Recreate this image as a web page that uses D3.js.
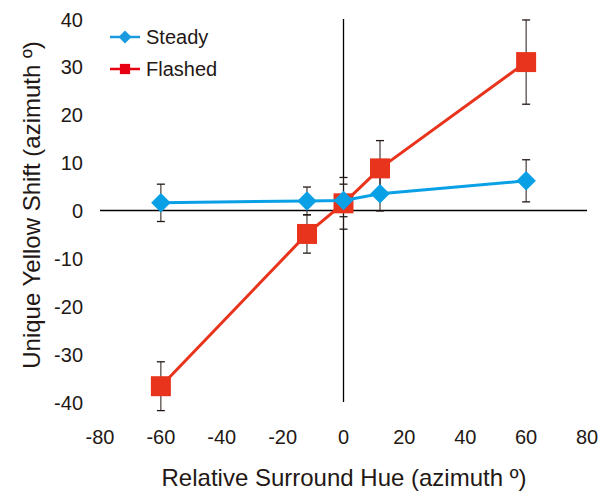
<html>
<head>
<script src="https://d3js.org/d3.v7.min.js"></script>
<style>
  body { margin: 0; background: #fff; }
  text { font-family: "Liberation Sans", Arial, sans-serif; fill: #231815; }
</style>
</head>
<body>
<svg width="602" height="491" id="chart"></svg>
<script>
var hues = [-60, -12, 0, 12, 60];
var steady = [1.6, 2.0, 2.1, 3.5, 6.2];
var steadyErr = [3.9, 2.9, 3.4, 3.6, 4.4];
var flashed = [-36.7, -4.9, 1.5, 8.8, 31.0];
var flashedErr = [5.1, 4.0, 5.4, 5.8, 8.8];
var xTicks = [-80, -60, -40, -20, 0, 20, 40, 60, 80];
var yTicks = [-40, -30, -20, -10, 0, 10, 20, 30, 40];

var svg = d3.select("#chart");
var x = d3.scaleLinear().domain([-80, 80]).range([100, 587]);
var y = d3.scaleLinear().domain([-40, 40]).range([402, 19]);

// axes cross at origin
svg.append("line").attr("x1", x(-80)).attr("x2", x(80)).attr("y1", y(0)).attr("y2", y(0))
  .attr("stroke", "#000").attr("stroke-width", 1.3);
svg.append("line").attr("x1", x(0)).attr("x2", x(0)).attr("y1", y(40)).attr("y2", y(-40))
  .attr("stroke", "#000").attr("stroke-width", 1.3);

// tick labels
svg.selectAll(".xt").data(xTicks).enter().append("text")
  .attr("x", function(d){ return x(d); }).attr("y", 444)
  .attr("text-anchor", "middle").attr("font-size", 20)
  .text(function(d){ return d; });
svg.selectAll(".yt").data(yTicks).enter().append("text")
  .attr("x", 83).attr("y", function(d){ return y(d) + 7.5; })
  .attr("text-anchor", "end").attr("font-size", 20)
  .text(function(d){ return d; });

svg.append("text").attr("x", 344).attr("y", 486).attr("text-anchor", "middle")
  .attr("font-size", 24).text("Relative Surround Hue (azimuth \u00ba)");
svg.append("text").attr("transform", "translate(40,205) rotate(-90)")
  .attr("text-anchor", "middle").attr("font-size", 24)
  .text("Unique Yellow Shift (azimuth \u00ba)");

// diamond = square turned 45 degrees
var series = [
  {vals: steady, err: steadyErr, color: "#0aa0e6", rot: 45, size: 190},
  {vals: flashed, err: flashedErr, color: "#e8341c", rot: 0, size: 400}
];

var line = d3.line().x(function(d){ return x(d[0]); }).y(function(d){ return y(d[1]); });

// error bars
series.forEach(function(s){
  var g = svg.append("g");
  hues.forEach(function(h, i){
    var top = y(s.vals[i] + s.err[i]), bot = y(s.vals[i] - s.err[i]);
    g.append("line").attr("x1", x(h)).attr("x2", x(h)).attr("y1", top).attr("y2", bot)
      .attr("stroke", "#231815").attr("stroke-width", 1);
    [top, bot].forEach(function(yy){
      g.append("line").attr("x1", x(h) - 4).attr("x2", x(h) + 4).attr("y1", yy).attr("y2", yy)
        .attr("stroke", "#231815").attr("stroke-width", 1.3);
    });
  });
});

// lines and markers (steady drawn last on top)
[series[1], series[0]].forEach(function(s){
  var pts = hues.map(function(h, i){ return [h, s.vals[i]]; });
  svg.append("path").attr("d", line(pts)).attr("fill", "none")
    .attr("stroke", s.color).attr("stroke-width", 3);
  svg.selectAll(null).data(pts).enter().append("path")
    .attr("d", d3.symbol().type(d3.symbolSquare).size(s.size))
    .attr("transform", function(d){
      return "translate(" + x(d[0]) + "," + y(d[1]) + ") rotate(" + s.rot + ")";
    })
    .attr("fill", s.color);
});

// legend
var legend = [
  {name: "Steady", color: "#1a9be0", rot: 45, size: 85, y: 37},
  {name: "Flashed", color: "#e60012", rot: 0, size: 105, y: 69}
];
legend.forEach(function(l){
  svg.append("line").attr("x1", 110).attr("x2", 140).attr("y1", l.y).attr("y2", l.y)
    .attr("stroke", l.color).attr("stroke-width", 2.5);
  svg.append("path").attr("d", d3.symbol().type(d3.symbolSquare).size(l.size)())
    .attr("transform", "translate(125," + l.y + ") rotate(" + l.rot + ")").attr("fill", l.color);
  svg.append("text").attr("x", 146).attr("y", l.y + 6.5).attr("font-size", 20).text(l.name);
});
</script>
</body>
</html>
